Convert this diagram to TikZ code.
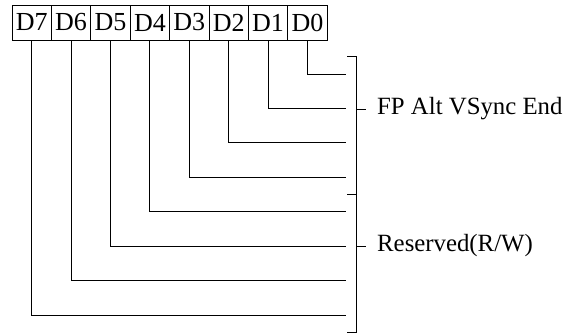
\documentclass[tikz,border=0pt]{standalone}
\usepackage{fontspec}
\setmainfont{Liberation Serif}
\tikzset{
    bitbox/.style={draw, line width=0.9pt, minimum width=39.4pt, minimum height=35pt, inner sep=0pt, font=\fontsize{26}{28}\selectfont},
    wire/.style={-, line width=0.9pt},
    lbl/.style={inner sep=0pt, anchor=west, font=\fontsize{24.8}{27}\selectfont}
}
\begin{document}
\begin{tikzpicture}[x=1pt,y=-1pt]
    \useasboundingbox (0,0) rectangle (570,333);
    % bit boxes
    \foreach \i in {0,...,7}
        \node [bitbox] (d\i) at ({12+(7-\i+0.5)*39.4},22.5) {D\i};
    % wires
    \foreach \i in {0,...,7}{
        \coordinate (e\i) at (346,{74+\i*34.43});
        \draw [wire] (d\i.south) |- (e\i);
    }
    % brackets
    \coordinate (t0) at (356,56);
    \coordinate (t1) at (356,194);
    \coordinate (t2) at (356,332);
    \draw [wire] ([xshift=-9pt]t0) -- (t0) -- (t2) -- ([xshift=-9pt]t2);
    \draw [wire] ([xshift=-9pt]t1) -- (t1);
    % lecter
    \node [lbl] (fp) at (377,109) {FP Alt VSync End};
    \node [lbl] (rsv) at (377,246) {Reserved(R/W)};
    \draw [wire] (fp.west -| t0) -- ([xshift=-11pt]fp.west);
    \draw [wire] (rsv.west -| t0) -- ([xshift=-11pt]rsv.west);
\end{tikzpicture}
\end{document}
